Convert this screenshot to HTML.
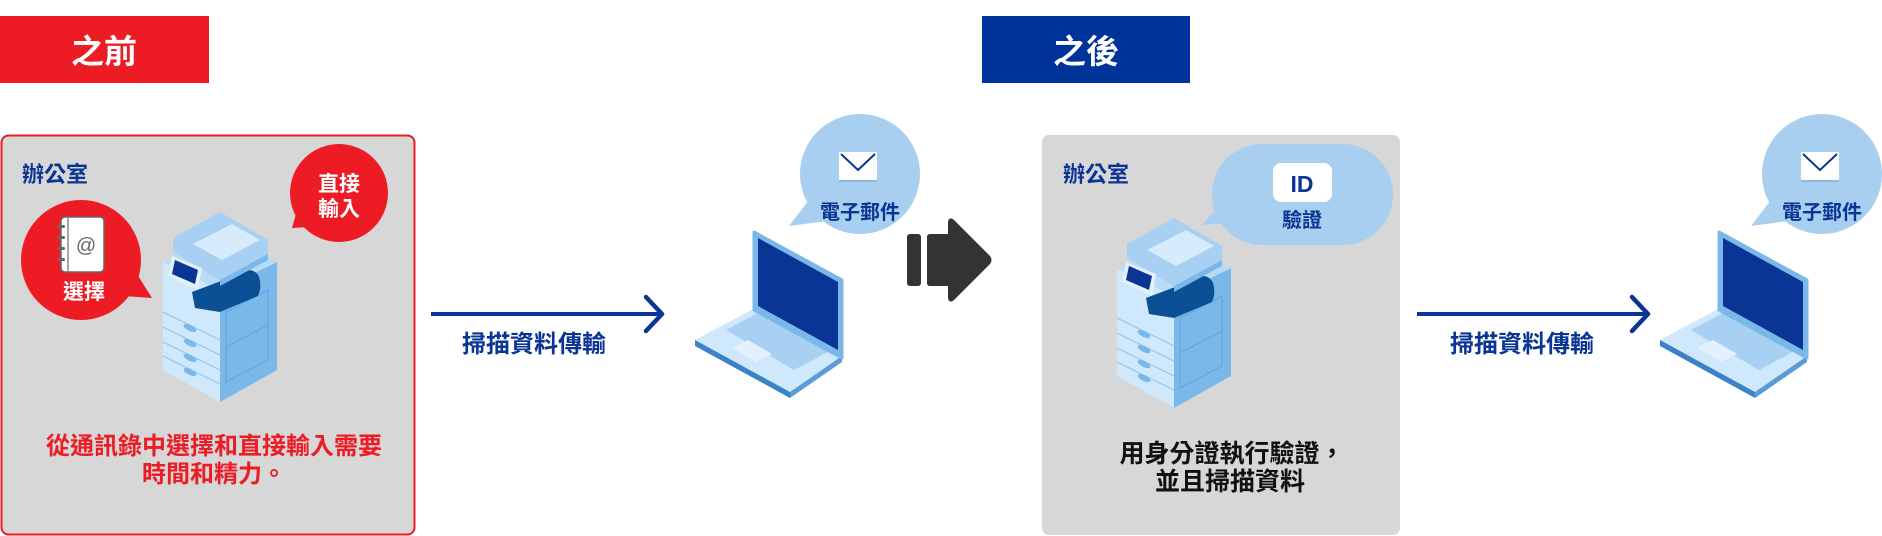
<!DOCTYPE html>
<html><head><meta charset="utf-8"><style>
html,body{margin:0;padding:0;background:#fff;}
svg{display:block;}
text{font-family:"Liberation Sans","Noto Sans CJK TC",sans-serif;}
</style></head><body>
<svg width="1882" height="536" viewBox="0 0 1882 536" xmlns="http://www.w3.org/2000/svg">
<defs>
<g id="printer">
  <polygon points="13,62 70,90 70,202 13,170" fill="#cfe8fb"/>
  <polygon points="70,90 127,62 127,170 70,202" fill="#7ab8ea"/>
  <polygon points="13,62 70,34 127,62 70,90" fill="#b9dbf6"/>
  <polygon points="76,112 118,90 118,160 76,182" fill="none" stroke="#5fa3e0" stroke-width="1"/>
  <line x1="76" y1="147" x2="118" y2="125" stroke="#5fa3e0" stroke-width="1"/>
  <path d="M42,92 L100,70 Q112,72 110,90 L108,96 L70,112 L45,108 Z" fill="#0b4f94"/>
  <polygon points="23,38 70,12 118,40 118,54 70,80 23,52" fill="#a7d0f3"/>
  <polygon points="43,44 82,24 110,40 72,60" fill="#d6ecfc"/>
  <polygon points="70,80 118,54 118,60 70,86" fill="#7ab8ea"/>
  <polygon points="22,56 52,68 48,90 18,76" fill="#e2f1fd"/>
  <polygon points="25,60 48,70 45,84 22,74" fill="#0a3594"/>
  <g stroke="#8fc3ec" stroke-width="1" fill="none">
    <line x1="13" y1="112" x2="70" y2="140"/>
    <line x1="13" y1="127" x2="70" y2="155"/>
    <line x1="13" y1="142" x2="70" y2="170"/>
    <line x1="13" y1="156" x2="70" y2="184"/>
  </g>
  <g fill="#7ab8ea">
    <ellipse cx="40" cy="128" rx="7" ry="3" transform="rotate(27 40 128)"/>
    <ellipse cx="40" cy="143" rx="7" ry="3" transform="rotate(27 40 143)"/>
    <ellipse cx="40" cy="158" rx="7" ry="3" transform="rotate(27 40 158)"/>
    <ellipse cx="40" cy="172" rx="7" ry="3" transform="rotate(27 40 172)"/>
  </g>
</g>
<g id="laptop">
  <polygon points="5,120 65,88 152,136 100,172" fill="#cfe8fb"/>
  <polygon points="5,120 100,172 100,178 5,126" fill="#3b82c9"/>
  <polygon points="100,172 152,136 152,142 100,178" fill="#5a9bd8"/>
  <polygon points="36,110 70,92 138,132 104,150" fill="#a7d0f3"/>
  <polygon points="42,128 58,120 82,134 66,142" fill="#e2f1fd"/>
  <polygon points="64,12 152,60 152,138 64,90" fill="#7ab8ea" stroke="#7ab8ea" stroke-width="3" stroke-linejoin="round"/>
  <polygon points="68,18 148,62 148,130 68,86" fill="#0a3594"/>
</g>
<g id="mail">
  <rect x="-19" y="-16" width="38" height="28" fill="#fff"/>
  <rect x="-19" y="12" width="38" height="2" fill="#8fb8e0"/>
  <polyline points="-17,-14 0,2 17,-14" fill="none" stroke="#0a3594" stroke-width="2"/>
</g>
</defs>

<rect x="0" y="16" width="209" height="67" fill="#ed1c24"/>
<text x="104" y="63" font-size="33" font-weight="bold" fill="#fff" text-anchor="middle">之前</text>
<rect x="982" y="16" width="208" height="67" fill="#00339a"/>
<text x="1086" y="63" font-size="33" font-weight="bold" fill="#fff" text-anchor="middle">之後</text>

<rect x="1.5" y="135.5" width="413" height="399" rx="7" fill="#d7d7d7" stroke="#ed1c24" stroke-width="2"/>
<text x="22" y="182" font-size="22" font-weight="bold" fill="#0a3594">辦公室</text>

<circle cx="81" cy="260" r="60" fill="#ed1c24"/>
<polygon points="125,255 152,298 110,295" fill="#ed1c24"/>
<rect x="61" y="217" width="43" height="55" rx="4" fill="#fff" stroke="#666" stroke-width="1.5"/>
<line x1="68" y1="218" x2="68" y2="271" stroke="#888" stroke-width="1.5"/>
<g fill="#666"><rect x="57" y="225" width="8" height="3" rx="1.5"/><rect x="57" y="236" width="8" height="3" rx="1.5"/><rect x="57" y="247" width="8" height="3" rx="1.5"/><rect x="57" y="258" width="8" height="3" rx="1.5"/></g>
<text x="86" y="252" font-size="20" fill="#666" text-anchor="middle">@</text>
<text x="84" y="299" font-size="21" font-weight="bold" fill="#fff" text-anchor="middle">選擇</text>

<ellipse cx="339" cy="193" rx="49" ry="49" fill="#ed1c24"/>
<polygon points="300,200 292,228 326,226" fill="#ed1c24"/>
<text x="339" y="191" font-size="21" font-weight="bold" fill="#fff" text-anchor="middle">直接</text>
<text x="339" y="216" font-size="21" font-weight="bold" fill="#fff" text-anchor="middle">輸入</text>

<use href="#printer" x="150" y="200"/>

<text x="214" y="454" font-size="24" font-weight="bold" fill="#ed1c24" text-anchor="middle">從通訊錄中選擇和直接輸入需要</text>
<text x="214" y="482" font-size="24" font-weight="bold" fill="#ed1c24" text-anchor="middle">時間和精力。</text>

<line x1="431" y1="314" x2="660" y2="314" stroke="#0a3594" stroke-width="4"/>
<polyline points="646,297 662,314 646,331" fill="none" stroke="#0a3594" stroke-width="4.5" stroke-linecap="round" stroke-linejoin="round"/>
<text x="534" y="352" font-size="24" font-weight="bold" fill="#0a3594" text-anchor="middle">掃描資料傳輸</text>

<use href="#laptop" x="690" y="220"/>
<ellipse cx="860" cy="174" rx="60" ry="60" fill="#a9cff0"/>
<polygon points="812,196 789,226 834,220" fill="#a9cff0"/>
<use href="#mail" x="858" y="168"/>
<text x="860" y="219" font-size="20" font-weight="bold" fill="#0a3594" text-anchor="middle">電子郵件</text>

<rect x="907" y="234" width="14" height="52" rx="3" fill="#333"/>
<path d="M930,234 L948,234 L948,222 Q949,216 954,220 L990,256 Q993,260 990,264 L954,300 Q949,304 948,298 L948,286 L930,286 Q927,286 927,283 L927,237 Q927,234 930,234 Z" fill="#333"/>

<rect x="1042" y="135" width="358" height="400" rx="7" fill="#d7d7d7"/>
<text x="1063" y="182" font-size="22" font-weight="bold" fill="#0a3594">辦公室</text>
<rect x="1212" y="144" width="181" height="101" rx="50" fill="#a9cff0"/>
<polygon points="1220,205 1202,225 1238,222" fill="#a9cff0"/>
<rect x="1273" y="163" width="59" height="39" rx="8" fill="#fff"/>
<text x="1302" y="192" font-size="23" font-weight="bold" fill="#0a3594" text-anchor="middle">ID</text>
<text x="1302" y="227" font-size="20" font-weight="bold" fill="#0a3594" text-anchor="middle">驗證</text>

<use href="#printer" x="1104" y="206"/>

<text x="1232" y="462" font-size="25" font-weight="bold" fill="#111" text-anchor="middle">用身分證執行驗證，</text>
<text x="1230" y="490" font-size="25" font-weight="bold" fill="#111" text-anchor="middle">並且掃描資料</text>

<line x1="1417" y1="314" x2="1646" y2="314" stroke="#0a3594" stroke-width="4"/>
<polyline points="1632,297 1648,314 1632,331" fill="none" stroke="#0a3594" stroke-width="4.5" stroke-linecap="round" stroke-linejoin="round"/>
<text x="1522" y="352" font-size="24" font-weight="bold" fill="#0a3594" text-anchor="middle">掃描資料傳輸</text>

<use href="#laptop" x="1655" y="220"/>
<ellipse cx="1822" cy="174" rx="60" ry="60" fill="#a9cff0"/>
<polygon points="1774,196 1751,226 1796,220" fill="#a9cff0"/>
<use href="#mail" x="1820" y="168"/>
<text x="1822" y="219" font-size="20" font-weight="bold" fill="#0a3594" text-anchor="middle">電子郵件</text>
</svg>
</body></html>
